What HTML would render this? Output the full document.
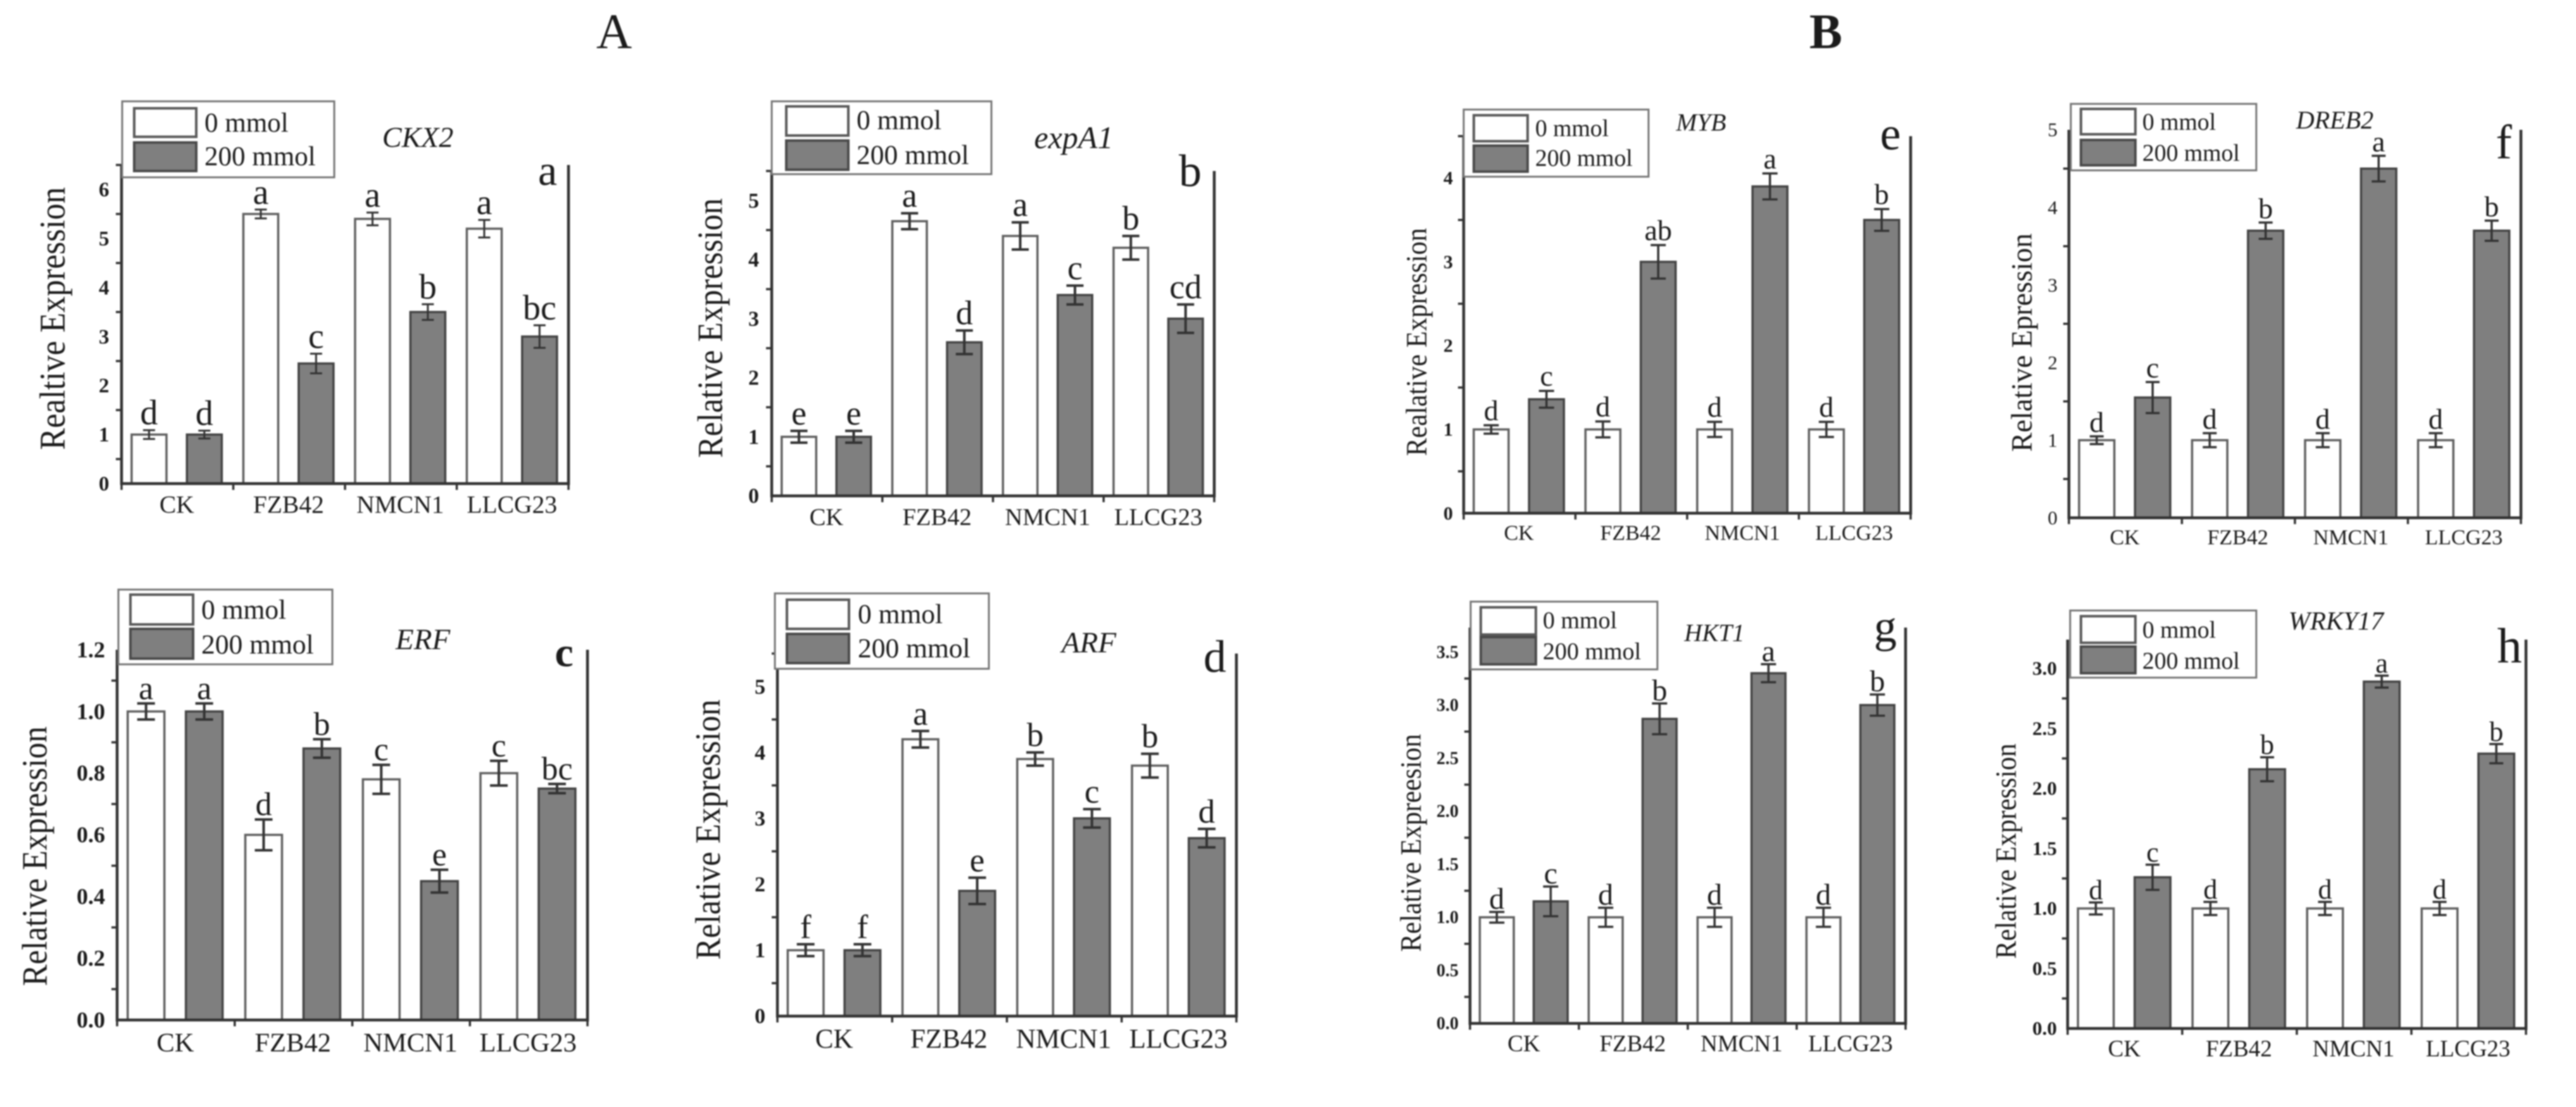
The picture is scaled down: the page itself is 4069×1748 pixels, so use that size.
<!DOCTYPE html>
<html lang="en">
<head>
<meta charset="utf-8">
<title>Relative expression of genes under 0 and 200 mmol treatment</title>
<style>
  html, body { margin: 0; padding: 0; background: #fff; }
  body { width: 4069px; height: 1748px; overflow: hidden; }
  #figure { display: block; filter: blur(1.1px); }
  text { font-family: "Liberation Serif", "Times New Roman", serif; fill: #1c1c1c; }
</style>
</head>
<body>
<svg id="figure" xmlns="http://www.w3.org/2000/svg" width="4069" height="1748" viewBox="0 0 4069 1748">
  <rect x="0" y="0" width="4069" height="1748" fill="#ffffff"/>
  <text x="970" y="76" font-size="78" text-anchor="middle">A</text>
  <text x="2884" y="76" font-size="78" font-weight="bold" text-anchor="middle">B</text>
</svg>
<script>
// Shared categories and legend entries
const categories = ["CK", "FZB42", "NMCN1", "LLCG23"];
const seriesNames = ["0 mmol", "200 mmol"];

// Panel a: CKX2
const ckx2Control = [1, 5.5, 5.4, 5.2];
const ckx2Salt = [1, 2.45, 3.5, 3];
const ckx2ControlErr = [0.09, 0.09, 0.13, 0.18];
const ckx2SaltErr = [0.08, 0.2, 0.16, 0.23];
const ckx2ControlSig = ["d", "a", "a", "a"];
const ckx2SaltSig = ["d", "c", "b", "bc"];
const ckx2Ticks = ["0", "1", "2", "3", "4", "5", "6"];

// Panel b: expA1
const expa1Control = [1, 4.65, 4.4, 4.2];
const expa1Salt = [1, 2.6, 3.4, 3];
const expa1ControlErr = [0.1, 0.135, 0.23, 0.2];
const expa1SaltErr = [0.1, 0.2, 0.16, 0.24];
const expa1ControlSig = ["e", "a", "a", "b"];
const expa1SaltSig = ["e", "d", "c", "cd"];
const expa1Ticks = ["0", "1", "2", "3", "4", "5"];

// Panel c: ERF
const erfControl = [1, 0.6, 0.78, 0.8];
const erfSalt = [1, 0.88, 0.45, 0.75];
const erfControlErr = [0.026, 0.05, 0.047, 0.04];
const erfSaltErr = [0.026, 0.03, 0.037, 0.015];
const erfControlSig = ["a", "d", "c", "c"];
const erfSaltSig = ["a", "b", "e", "bc"];
const erfTicks = ["0.0", "0.2", "0.4", "0.6", "0.8", "1.0", "1.2"];

// Panel d: ARF
const arfControl = [1, 4.2, 3.9, 3.8];
const arfSalt = [1, 1.9, 3, 2.7];
const arfControlErr = [0.09, 0.125, 0.1, 0.18];
const arfSaltErr = [0.09, 0.2, 0.14, 0.14];
const arfControlSig = ["f", "a", "b", "b"];
const arfSaltSig = ["f", "e", "c", "d"];
const arfTicks = ["0", "1", "2", "3", "4", "5"];

// Panel e: MYB
const mybControl = [1, 1, 1, 1];
const mybSalt = [1.36, 3, 3.9, 3.5];
const mybControlErr = [0.05, 0.095, 0.09, 0.09];
const mybSaltErr = [0.1, 0.2, 0.155, 0.13];
const mybControlSig = ["d", "d", "d", "d"];
const mybSaltSig = ["c", "ab", "a", "b"];
const mybTicks = ["0", "1", "2", "3", "4"];

// Panel f: DREB2
const dreb2Control = [1, 1, 1, 1];
const dreb2Salt = [1.55, 3.7, 4.5, 3.7];
const dreb2ControlErr = [0.05, 0.09, 0.09, 0.09];
const dreb2SaltErr = [0.2, 0.105, 0.165, 0.13];
const dreb2ControlSig = ["d", "d", "d", "d"];
const dreb2SaltSig = ["c", "b", "a", "b"];
const dreb2Ticks = ["0", "1", "2", "3", "4", "5"];

// Panel g: HKT1
const hkt1Control = [1, 1, 1, 1];
const hkt1Salt = [1.15, 2.87, 3.3, 3];
const hkt1ControlErr = [0.05, 0.09, 0.09, 0.09];
const hkt1SaltErr = [0.14, 0.145, 0.085, 0.1];
const hkt1ControlSig = ["d", "d", "d", "d"];
const hkt1SaltSig = ["c", "b", "a", "b"];
const hkt1Ticks = ["0.0", "0.5", "1.0", "1.5", "2.0", "2.5", "3.0", "3.5"];

// Panel h: WRKY17
const wrky17Control = [1, 1, 1, 1];
const wrky17Salt = [1.26, 2.16, 2.89, 2.29];
const wrky17ControlErr = [0.05, 0.055, 0.055, 0.055];
const wrky17SaltErr = [0.105, 0.1, 0.05, 0.08];
const wrky17ControlSig = ["d", "d", "d", "d"];
const wrky17SaltSig = ["c", "b", "a", "b"];
const wrky17Ticks = ["0.0", "0.5", "1.0", "1.5", "2.0", "2.5", "3.0"];

const SVGNS = "http://www.w3.org/2000/svg";
const root = document.getElementById("figure");

function make(parent, tag, attrs, content) {
  const node = document.createElementNS(SVGNS, tag);
  Object.keys(attrs).forEach(function (k) { node.setAttribute(k, attrs[k]); });
  if (content !== undefined) node.textContent = content;
  parent.appendChild(node);
  return node;
}

function drawPanel(p) {
  const g = make(root, "g", {});
  
  

  const yScale = function (v) { return p.bottom - (v / p.yMax) * (p.bottom - p.top); };
  const groupWidth = (p.right - p.left) / categories.length;
  const xScale = function (groupIndex, fraction) { return p.left + (groupIndex + fraction) * groupWidth; };
  const barWidth = 0.312 * groupWidth;
  const barStart = [0.09, 0.585];

  // Bars and error bars for both series
  [p.control, p.salt].forEach(function (values, s) {
    values.forEach(function (v, i) {
      const x = xScale(i, barStart[s]);
      const y = yScale(v);
      const cx = x + barWidth / 2;
      const bar = make(g, "rect", {
        x: x, y: y, width: barWidth, height: p.bottom - y,
        fill: s === 0 ? "#ffffff" : "#7f7f7f",
        stroke: s === 0 ? "#606060" : "#444444",
        "stroke-width": 3.5
      });
      
      

      const e = (s === 0 ? p.controlErr : p.saltErr)[i];
      const yHi = yScale(v + e);
      const yLo = yScale(v - e);
      const errorPath = "M" + cx + " " + yHi + "V" + yLo +
        "M" + (cx - p.cap / 2) + " " + yHi + "H" + (cx + p.cap / 2) +
        "M" + (cx - p.cap / 2) + " " + yLo + "H" + (cx + p.cap / 2);
      const err = make(g, "path", { d: errorPath, fill: "none", stroke: "#333333", "stroke-width": p.errWidth });
      
      

      const sig = make(g, "text", {
        x: cx, y: yHi - p.sigGap, "font-size": p.sigSize, "text-anchor": "middle"
      }, (s === 0 ? p.controlSig : p.saltSig)[i]);
      
      
    });
  });

  // Axes frame: left, bottom and right lines
  const axes = make(g, "path", {
    d: "M" + p.left + " " + p.top + "V" + p.bottom + "H" + p.right + "V" + p.top,
    fill: "none", stroke: "#333333", "stroke-width": 4.5
  });
  
  

  // Y tick labels at every major value, tick marks halfway between them
  p.ticks.forEach(function (label, i) {
    const v = parseFloat(label);
    const t = make(g, "text", {
      x: p.tickRight, y: yScale(v) + p.tickSize * 0.33,
      "font-size": p.tickSize, "font-weight": p.tickBold ? "bold" : "normal",
      "text-anchor": "end", fill: p.tickBold ? "#222222" : "#444444"
    }, label);
    
    

    const step = parseFloat(p.ticks[1]) - parseFloat(p.ticks[0]);
    const mid = v + step / 2;
    if (mid <= p.yMax + 1e-6) {
      const m = make(g, "line", {
        x1: p.left - 9, x2: p.left, y1: yScale(mid), y2: yScale(mid),
        stroke: "#333333", "stroke-width": 3.5
      });
      
      
    }
  });

  // X ticks and category labels
  categories.forEach(function (name, i) {
    const lab = make(g, "text", {
      x: xScale(i, 0.5) - 1, y: p.bottom + p.catOffset, "font-size": p.catSize, "text-anchor": "middle", fill: "#333333"
    }, name);
    
    
  });
  for (let i = 0; i <= categories.length; i++) {
    const tick = make(g, "line", {
      x1: xScale(i, 0), x2: xScale(i, 0), y1: p.bottom, y2: p.bottom + 10,
      stroke: "#333333", "stroke-width": 3.5
    });
    
    
  }

  // Y axis title
  const yt = make(g, "text", {
    transform: "translate(" + p.yTitleX + " " + p.yTitleY + ") rotate(-90)",
    "font-size": p.yTitleSize, "text-anchor": "middle", textLength: p.yTitleLen,
    lengthAdjust: "spacingAndGlyphs", fill: "#333333"
  }, p.yTitle);
  
  

  // Gene title
  const gt = make(g, "text", {
    x: p.geneX, y: p.geneY, "font-size": p.geneSize, "font-style": "italic", "text-anchor": "middle", fill: "#333333"
  }, p.gene);
  
  

  // Panel letter
  const pl = make(g, "text", {
    x: p.letterX, y: p.letterY, "font-size": p.letterSize, "text-anchor": "middle",
    "font-weight": p.letterBold ? "bold" : "normal", fill: "#111111"
  }, p.letter);
  
  

  // Legend
  const leg = p.legend;
  const lg = make(g, "g", {});
  
  
  const box = make(lg, "rect", {
    x: leg.x, y: leg.y, width: leg.w, height: leg.h, fill: "#ffffff", stroke: "#777777", "stroke-width": 3
  });
  
  
  seriesNames.forEach(function (name, s) {
    const sw = make(lg, "rect", {
      x: leg.sx, y: leg.sy[s], width: leg.sw, height: leg.sh,
      fill: s === 0 ? "#ffffff" : "#7f7f7f",
      stroke: s === 0 ? "#5a5a5a" : "#4a4a4a",
      "stroke-width": 4
    });
    
    
    const lt = make(lg, "text", {
      x: leg.tx, y: leg.ty[s], "font-size": leg.size, fill: "#222222"
    }, name);
    
    
  });
}

drawPanel({
  gene: "CKX2", letter: "a", yTitle: "Realtive Expression",
  control: ckx2Control, salt: ckx2Salt, controlErr: ckx2ControlErr, saltErr: ckx2SaltErr,
  controlSig: ckx2ControlSig, saltSig: ckx2SaltSig, ticks: ckx2Ticks,
  left: 192, right: 898, top: 260.5, bottom: 763.6, yMax: 6.5,
  cap: 19, errWidth: 3, sigGap: 9, sigSize: 56,
  tickRight: 172.5, tickSize: 33, tickBold: true, catSize: 39.5, catOffset: 46,
  yTitleX: 102, yTitleY: 503, yTitleLen: 415, yTitleSize: 57,
  geneX: 660, geneY: 232, geneSize: 46,
  letterX: 865, letterY: 292, letterSize: 68,
  legend: { x: 193, y: 160, w: 335, h: 120, sx: 212, sy: [171, 225], sw: 98, sh: 45, tx: 323, ty: [208, 261], size: 43 }
});
drawPanel({
  gene: "expA1", letter: "b", yTitle: "Relative Expression",
  control: expa1Control, salt: expa1Salt, controlErr: expa1ControlErr, saltErr: expa1SaltErr,
  controlSig: expa1ControlSig, saltSig: expa1SaltSig, ticks: expa1Ticks,
  left: 1219, right: 1918, top: 270, bottom: 783, yMax: 5.5,
  cap: 27, errWidth: 4, sigGap: 10, sigSize: 54,
  tickRight: 1199, tickSize: 34, tickBold: true, catSize: 38.6, catOffset: 46,
  yTitleX: 1140.6, yTitleY: 518, yTitleLen: 410, yTitleSize: 56,
  geneX: 1696, geneY: 234, geneSize: 50,
  letterX: 1880, letterY: 294, letterSize: 72,
  legend: { x: 1219, y: 160, w: 347, h: 115, sx: 1242, sy: [168, 222], sw: 98, sh: 46, tx: 1353, ty: [204, 259], size: 43.5 }
});
drawPanel({
  gene: "ERF", letter: "c", yTitle: "Relative Expression",
  control: erfControl, salt: erfSalt, controlErr: erfControlErr, saltErr: erfSaltErr,
  controlSig: erfControlSig, saltSig: erfSaltSig, ticks: erfTicks,
  left: 185, right: 928, top: 1026, bottom: 1610.6, yMax: 1.2,
  cap: 28, errWidth: 4, sigGap: 7, sigSize: 52,
  tickRight: 166, tickSize: 36, tickBold: true, catSize: 42.5, catOffset: 50,
  yTitleX: 73.5, yTitleY: 1352, yTitleLen: 410, yTitleSize: 56,
  geneX: 668, geneY: 1025, geneSize: 47,
  letterX: 891, letterY: 1052, letterSize: 66, letterBold: true,
  legend: { x: 187, y: 931, w: 338, h: 118, sx: 206, sy: [939, 993], sw: 99, sh: 47, tx: 318, ty: [977, 1032], size: 43.5 }
});
drawPanel({
  gene: "ARF", letter: "d", yTitle: "Relative Expression",
  control: arfControl, salt: arfSalt, controlErr: arfControlErr, saltErr: arfSaltErr,
  controlSig: arfControlSig, saltSig: arfSaltSig, ticks: arfTicks,
  left: 1228, right: 1953, top: 1032, bottom: 1604.5, yMax: 5.5,
  cap: 28, errWidth: 4, sigGap: 10, sigSize: 53,
  tickRight: 1209, tickSize: 34, tickBold: true, catSize: 43, catOffset: 50,
  yTitleX: 1137, yTitleY: 1310, yTitleLen: 411, yTitleSize: 56,
  geneX: 1720, geneY: 1030, geneSize: 47,
  letterX: 1919, letterY: 1061, letterSize: 72,
  legend: { x: 1224, y: 937, w: 338, h: 119, sx: 1243, sy: [947, 1001], sw: 98, sh: 46, tx: 1355, ty: [984, 1038], size: 43.5 }
});
drawPanel({
  gene: "MYB", letter: "e", yTitle: "Realative Expression",
  control: mybControl, salt: mybSalt, controlErr: mybControlErr, saltErr: mybSaltErr,
  controlSig: mybControlSig, saltSig: mybSaltSig, ticks: mybTicks,
  left: 2312, right: 3018, top: 215, bottom: 810.4, yMax: 4.5,
  cap: 24, errWidth: 3.5, sigGap: 8, sigSize: 46,
  tickRight: 2295, tickSize: 30, tickBold: true, catSize: 34, catOffset: 42,
  yTitleX: 2253, yTitleY: 540, yTitleLen: 360, yTitleSize: 47,
  geneX: 2687, geneY: 206, geneSize: 39.5,
  letterX: 2986, letterY: 236, letterSize: 74,
  legend: { x: 2312, y: 173, w: 292, h: 106, sx: 2328, sy: [182, 230], sw: 85, sh: 41, tx: 2425, ty: [215, 262], size: 37.7 }
});
drawPanel({
  gene: "DREB2", letter: "f", yTitle: "Relative Epression",
  control: dreb2Control, salt: dreb2Salt, controlErr: dreb2ControlErr, saltErr: dreb2SaltErr,
  controlSig: dreb2ControlSig, saltSig: dreb2SaltSig, ticks: dreb2Ticks,
  left: 3268, right: 3982, top: 205, bottom: 817.6, yMax: 5,
  cap: 22, errWidth: 3.5, sigGap: 7, sigSize: 46,
  tickRight: 3250, tickSize: 31, tickBold: false, catSize: 34, catOffset: 42,
  yTitleX: 3209, yTitleY: 541, yTitleLen: 345, yTitleSize: 47,
  geneX: 3688, geneY: 203, geneSize: 40,
  letterX: 3955, letterY: 250, letterSize: 76,
  legend: { x: 3271, y: 164, w: 293, h: 105, sx: 3287, sy: [172, 221], sw: 86, sh: 40, tx: 3384, ty: [205, 254], size: 37.7 }
});
drawPanel({
  gene: "HKT1", letter: "g", yTitle: "Relative Expreesion",
  control: hkt1Control, salt: hkt1Salt, controlErr: hkt1ControlErr, saltErr: hkt1SaltErr,
  controlSig: hkt1ControlSig, saltSig: hkt1SaltSig, ticks: hkt1Ticks,
  left: 2322, right: 3010, top: 991, bottom: 1616, yMax: 3.73,
  cap: 24, errWidth: 3.5, sigGap: 5, sigSize: 48,
  tickRight: 2304, tickSize: 28, tickBold: true, catSize: 37, catOffset: 44,
  yTitleX: 2244, yTitleY: 1331, yTitleLen: 344, yTitleSize: 47,
  geneX: 2708, geneY: 1012, geneSize: 39,
  letterX: 2978, letterY: 1013, letterSize: 72,
  legend: { x: 2323, y: 950, w: 295, h: 107, sx: 2339, sy: [959, 1006], sw: 87, sh: 43, tx: 2437, ty: [992, 1041], size: 38 }
});
drawPanel({
  gene: "WRKY17", letter: "h", yTitle: "Relative Expression",
  control: wrky17Control, salt: wrky17Salt, controlErr: wrky17ControlErr, saltErr: wrky17SaltErr,
  controlSig: wrky17ControlSig, saltSig: wrky17SaltSig, ticks: wrky17Ticks,
  left: 3266, right: 3990, top: 1010, bottom: 1624, yMax: 3.24,
  cap: 22, errWidth: 3.5, sigGap: 5, sigSize: 44,
  tickRight: 3249, tickSize: 31, tickBold: true, catSize: 37, catOffset: 44,
  yTitleX: 3184, yTitleY: 1344, yTitleLen: 340, yTitleSize: 47,
  geneX: 3690, geneY: 994, geneSize: 41,
  letterX: 3964, letterY: 1046, letterSize: 78,
  legend: { x: 3270, y: 964, w: 294, h: 106, sx: 3287, sy: [973, 1021], sw: 86, sh: 42, tx: 3384, ty: [1007, 1056], size: 37.7 }
});
</script>
</body>
</html>
